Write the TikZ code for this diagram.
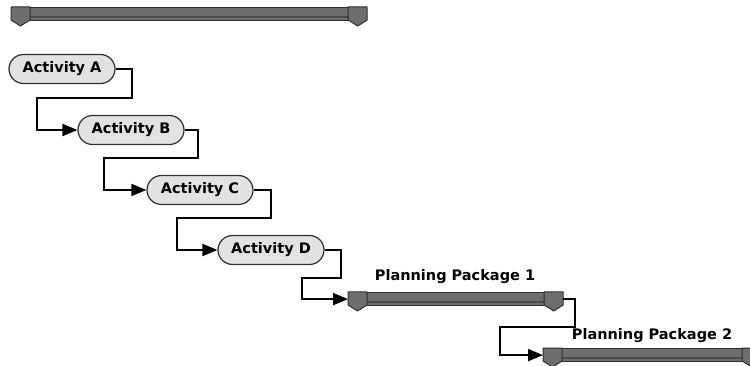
\documentclass[tikz,border=0pt]{standalone}
\usepackage{fontspec}
\setmainfont{DejaVu Sans}
\usetikzlibrary{shapes.misc,arrows.meta,calc}
\definecolor{pillfill}{HTML}{E2E2E2}
\definecolor{edge}{HTML}{2E2E2E}
\definecolor{barfill}{HTML}{6E6E6E}
\definecolor{bardark}{HTML}{4A4A4A}
\tikzset{
  pill/.style={rounded rectangle, draw=edge, line width=1.2pt, fill=pillfill,
    minimum width=106pt, minimum height=29pt, inner sep=0pt,
    font=\fontsize{14.5pt}{16pt}\selectfont\bfseries},
  barbox/.style={rectangle, draw=edge, line width=1.2pt, fill=barfill,
    minimum height=13pt, inner sep=0pt, anchor=north west},
  conn/.style={line width=1.9pt, draw=black, -{Triangle[length=15pt,width=12pt]}},
  lbl/.style={font=\fontsize{14.5pt}{16pt}\selectfont\bfseries, inner sep=0pt},
  capshape/.style={fill=barfill, draw=edge, line width=1pt, line join=round}
}
\newcommand{\barcaps}[1]{%
  \draw[bardark, line width=1.6pt] ($(#1.south west)+(1,-4)$) -- ($(#1.south east)+(-1,-4)$);
  \draw[capshape] (#1.north west) -- ++(19,0) -- ++(0,13) -- ++(-9.5,6) -- ++(-9.5,-6) -- cycle;
  \draw[capshape] (#1.north east) -- ++(-19,0) -- ++(0,13) -- ++(9.5,6) -- ++(9.5,-6) -- cycle;
}
\begin{document}
\begin{tikzpicture}[x=1pt,y=-1pt]
\useasboundingbox (0,0) rectangle (750,366);
% top bar
\node[barbox, minimum width=355pt] (top) at (11,7) {};
\barcaps{top}
% activities
\node[pill] (A) at (62,69) {Activity A};
\node[pill] (B) at (131,130) {Activity B};
\node[pill] (C) at (200,190) {Activity C};
\node[pill] (D) at (271,250) {Activity D};
% planning packages
\node[barbox, minimum width=214pt] (P1) at (348,292) {};
\barcaps{P1}
\node[lbl] (L1) at (455,277) {Planning Package 1};
\node[barbox, minimum width=217pt] (P2) at (543,348) {};
\barcaps{P2}
\node[lbl] (L2) at (652,336) {Planning Package 2};
% connectors
\draw[conn] (A.east) -- ++(16,0) -- ++(0,29) -| ($(B.west)+(-40,0)$) -- (B.west);
\draw[conn] (B.east) -- ++(13,0) -- ++(0,28) -| ($(C.west)+(-42,0)$) -- (C.west);
\draw[conn] (C.east) -- ++(17,0) -- ++(0,28) -| ($(D.west)+(-40,0)$) -- (D.west);
\draw[conn] (D.east) -- ++(16,0) -- ++(0,28) -| ($(P1.west)+(-46,0)$) -- (P1.west);
\draw[conn] (P1.east) -- ++(12,0) -- ++(0,28) -| ($(P2.west)+(-43,0)$) -- (P2.west);
\end{tikzpicture}
\end{document}
